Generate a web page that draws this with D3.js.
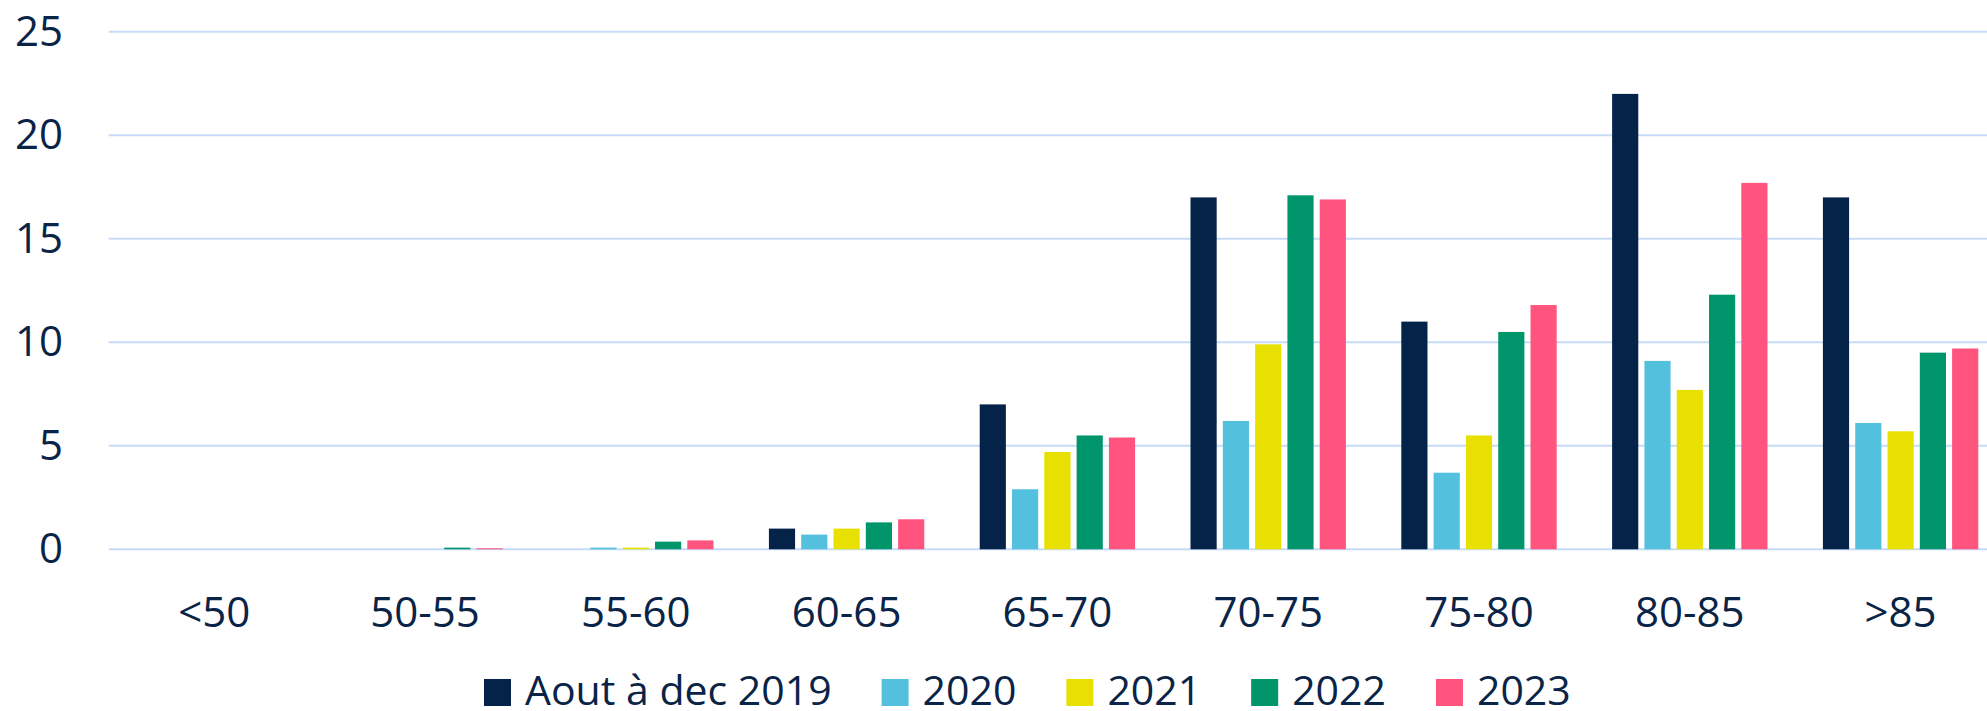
<!DOCTYPE html>
<html>
<head>
<meta charset="utf-8">
<script src="https://cdn.jsdelivr.net/npm/d3@7"></script>
<style>
  body { margin: 0; background: #fff; }
  svg { display: block; font-family: "Open Sans", "Noto Sans", sans-serif; }
</style>
</head>
<body>
<svg id="chart-svg" width="1987" height="711"></svg>
<script>
// Age groups along the x axis
const categories = ["<50", "50-55", "55-60", "60-65", "65-70", "70-75", "75-80", "80-85", ">85"];

// Series names (legend order)
const seriesNames = ["Aout à dec 2019", "2020", "2021", "2022", "2023"];

// Values per series, one per age group
const values2019 = [0, 0, 0, 1.0, 7.0, 17.0, 11.0, 22.0, 17.0];
const values2020 = [0, 0, 0.08, 0.71, 2.9, 6.2, 3.7, 9.1, 6.1];
const values2021 = [0, 0, 0.08, 1.0, 4.7, 9.9, 5.5, 7.7, 5.7];
const values2022 = [0, 0.08, 0.37, 1.3, 5.5, 17.1, 10.5, 12.3, 9.5];
const values2023 = [0, 0.05, 0.43, 1.45, 5.4, 16.9, 11.8, 17.7, 9.7];

const yTicks = [0, 5, 10, 15, 20, 25];

const seriesValues = [values2019, values2020, values2021, values2022, values2023];
const colors = ["#052249", "#53C1DE", "#E8E000", "#00956A", "#FF547E"];

const textColor = "#0A2447";

// Build a flat table for the bars
const table = [];
categories.forEach((c, i) => {
  seriesNames.forEach((s, j) => {
    table.push({ category: c, series: s, value: seriesValues[j][i], color: colors[j] });
  });
});

const svg = d3.select("#chart-svg");

// Plot area (the right side runs a bit past the picture edge, as in the original)
const PLOT = { left: 108.8, right: 2006, top: 31.8, bottom: 549.3 };

const x0 = d3.scaleBand()
  .domain(categories)
  .range([PLOT.left, PLOT.right])
  .paddingInner(0)
  .paddingOuter(0);

const x1 = d3.scaleBand()
  .domain(seriesNames)
  .range([0, x0.bandwidth()])
  .paddingInner(0.19)
  .paddingOuter(0.858);

const y = d3.scaleLinear()
  .domain([0, 25])
  .range([PLOT.bottom, PLOT.top]);

// Gridlines
svg.append("g")
  .selectAll("line")
  .data(yTicks)
  .join("line")
  .attr("x1", PLOT.left)
  .attr("x2", PLOT.right)
  .attr("y1", d => y(d))
  .attr("y2", d => y(d))
  .style("stroke", "#C6DBF7")
  .style("stroke-width", 2);

// Y axis labels
const yAxis = svg.append("g")
  .attr("transform", `translate(${63},0)`)
  .call(d3.axisLeft(y).tickValues(yTicks).tickSize(0).tickPadding(0));
yAxis.select(".domain").remove();
yAxis.selectAll("text")
  .style("font-family", "'Open Sans', 'Noto Sans', sans-serif")
  .style("font-size", "42px")
  .style("fill", textColor);

// Bars
svg.append("g")
  .selectAll("rect")
  .data(table)
  .join("rect")
  .attr("x", d => x0(d.category) + x1(d.series))
  .attr("y", d => y(d.value))
  .attr("width", x1.bandwidth())
  .attr("height", d => y(0) - y(d.value))
  .style("fill", d => d.color);

// X axis labels
const xAxis = svg.append("g")
  .attr("transform", `translate(0,${PLOT.bottom})`)
  .call(d3.axisBottom(x0).tickSize(0).tickPadding(0));
xAxis.select(".domain").remove();
xAxis.selectAll("text")
  .attr("dy", null)
  .attr("y", 78)
  .style("font-family", "'Open Sans', 'Noto Sans', sans-serif")
  .style("font-size", "42px")
  .style("fill", textColor);

// Legend, laid out left to right from measured text widths
const legend = svg.append("g").attr("transform", "translate(484,0)");
let cursor = 0;
seriesNames.forEach((name, i) => {
  const item = legend.append("g").attr("transform", `translate(${cursor},0)`);
  item.append("rect")
    .attr("x", 0)
    .attr("y", 679)
    .attr("width", 27)
    .attr("height", 27)
    .style("fill", colors[i]);
  const label = item.append("text")
    .attr("x", 41)
    .attr("y", 705)
    .style("font-size", "41px")
    .style("fill", textColor)
    .text(name);
  cursor += 41 + label.node().getComputedTextLength() + 50;
});
</script>
</body>
</html>
